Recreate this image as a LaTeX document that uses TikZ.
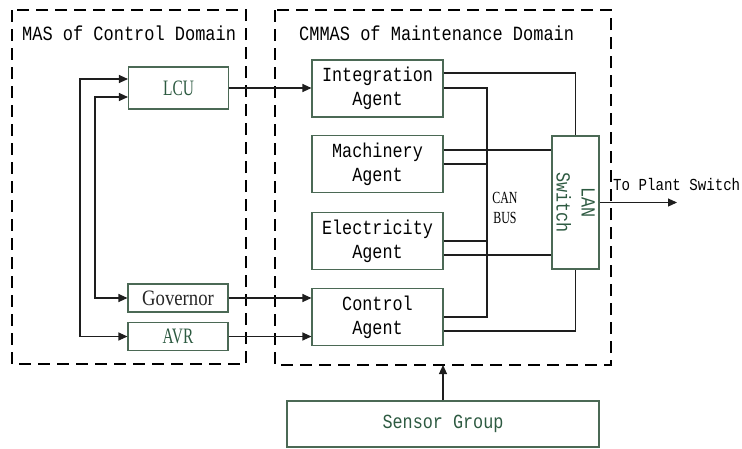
\documentclass[tikz,border=0pt]{standalone}
\usepackage{fontspec}
\setmainfont{Liberation Serif}
\setmonofont{Liberation Mono}
\newfontfamily\condmono[FakeStretch=0.84]{Liberation Mono}
\newfontfamily\condserif[FakeStretch=0.7]{Liberation Serif}
\newfontfamily\midserif[FakeStretch=0.85]{Liberation Serif}
\usetikzlibrary{arrows.meta,calc}
\definecolor{boxc}{RGB}{75,105,85}
\definecolor{txtg}{RGB}{45,90,65}
\definecolor{linec}{RGB}{30,30,30}
\begin{document}
\begin{tikzpicture}[x=1pt,y=-1pt,
  dom/.style={draw=black, line width=1.8pt, dash pattern=on 12pt off 7pt},
  mono/.style={font=\condmono\fontsize{20}{24}\selectfont},
  agent/.style={draw=boxc, line width=1.1pt, minimum width=131pt, minimum height=57pt, inner sep=0pt, align=center, mono},
  ctl/.style={draw=boxc, line width=1.1pt, minimum width=100pt, inner sep=0pt, align=center},
  conn/.style={draw=linec, line width=1.1pt},
  arr/.style={conn, -{Triangle[length=9pt,width=8pt]}},
  darr/.style={conn, {Triangle[length=9pt,width=8pt]}-{Triangle[length=9pt,width=8pt]}}]
\useasboundingbox (0,0) rectangle (742,448);
% domains
\draw[dom] (12,10) rectangle (246,364);
\draw[dom] (275,10) rectangle (611,365);
\node[font=\condmono\fontsize{20.2}{24}\selectfont, anchor=west, inner sep=0] (tL) at (22,33) {MAS of Control Domain};
\node[font=\condmono\fontsize{20.2}{24}\selectfont, anchor=west, inner sep=0] (tR) at (299,33) {CMMAS of Maintenance Domain};
% control domain nodes
\node[ctl, minimum height=42pt, text=txtg, font=\condserif\fontsize{22}{24}\selectfont] (LCU) at (178.5,88) {LCU};
\node[ctl, minimum height=28pt, text=black!85, font=\midserif\fontsize{22}{24}\selectfont] (Gov) at (178,298) {Governor};
\node[ctl, minimum height=28pt, text=txtg, font=\condserif\fontsize{22}{24}\selectfont] (AVR) at (178,336.5) {AVR};
% agents
\node[agent] (Integ) at (377.5,88.5) {Integration\\Agent};
\node[agent] (Mach) at (377.5,164) {Machinery\\Agent};
\node[agent] (Elec) at (377.5,241) {Electricity\\Agent};
\node[agent] (Ctrl) at (377.5,317) {Control\\Agent};
\node[draw=boxc, line width=1.1pt, minimum width=133pt, minimum height=47pt, inner sep=0pt, rotate=-90, align=center, text=txtg, font=\condmono\fontsize{20}{25}\selectfont] (LAN) at (575.5,202.5) {LAN\\Switch};
\node[draw=boxc, line width=1.1pt, minimum width=312pt, minimum height=46pt, inner sep=0pt, text=txtg, mono] (Sens) at (443,424) {Sensor Group};
\node[font=\condserif\fontsize{17}{20}\selectfont, align=center, inner sep=0] (can) at (505,208) {CAN\\BUS};
\node[font=\condmono\fontsize{16.8}{20}\selectfont, anchor=west, inner sep=0] (plantT) at (613,184) {To Plant Switch};
% control-domain feedback loops
\draw[darr] ($(LCU.west)+(0,-9)$) -- ++(-48,0) |- (AVR.west);
\draw[darr] ($(LCU.west)+(0,9)$) -- ++(-33,0) |- (Gov.west);
% cross-domain arrows
\draw[arr] (LCU.east) -- (LCU.east -| Integ.west);
\draw[arr] (Gov.east) -- (Gov.east -| Ctrl.west);
\draw[arr] (AVR.east) -- (AVR.east -| Ctrl.west);
% CAN bus
\coordinate (canT) at (487,88);
\coordinate (canB) at (487,317);
\draw[conn] (Integ.east |- canT) -- (canT) -- (canB) -- (Ctrl.east);
\draw[conn] (Mach.east) -- (Mach.east -| canT);
\draw[conn] (Elec.east) -- (Elec.east -| canT);
% LAN links
\coordinate (i2) at ($(Integ.east)+(0,-15.5)$);
\coordinate (m2) at ($(Mach.east)+(0,-14)$);
\coordinate (e2) at ($(Elec.east)+(0,14)$);
\coordinate (c2) at ($(Ctrl.east)+(0,14)$);
\draw[conn] (i2) -| (LAN.west);
\draw[conn] (m2) -- (m2 -| LAN.south);
\draw[conn] (e2) -- (e2 -| LAN.south);
\draw[conn] (c2) -| (LAN.east);
% outputs
\coordinate (plant) at (677,202.5);
\draw[arr] (LAN.north) -- (plant);
\draw[arr] (Sens.north) -- (Sens.north |- 0,365);
\end{tikzpicture}
\end{document}
